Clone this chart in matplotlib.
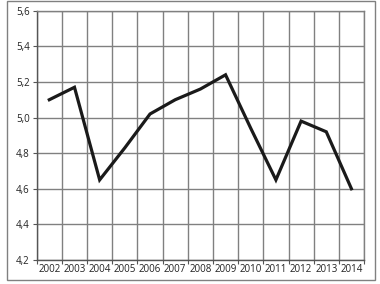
import numpy as np
import matplotlib.pyplot as plt
from matplotlib.patches import Rectangle

years = ['2002', '2003', '2004', '2005', '2006', '2007', '2008',
         '2009', '2010', '2011', '2012', '2013', '2014']
values = [5.10, 5.17, 4.65, 4.83, 5.02, 5.10, 5.16,
          5.24, 4.94, 4.65, 4.98, 4.92, 4.60]
yticks = [4.2, 4.4, 4.6, 4.8, 5.0, 5.2, 5.4, 5.6]

plt.rcParams['font.family'] = ['Open Sans', 'DejaVu Sans']

fig = plt.figure(figsize=(3.8, 2.84), dpi=100)
ax = fig.add_axes([0.0966, 0.0845, 0.8614, 0.8778])

x = np.arange(len(years))
ax.plot(x, values, color='#1a1a1a', lw=2.3, solid_joinstyle='miter', zorder=3)

ax.set_xlim(-0.5, len(years) - 0.5)
ax.set_ylim(4.2, 5.6)

# boundaries get the grid and tick marks, centres get the labels
ax.set_xticks(np.arange(len(years) + 1) - 0.5)
ax.set_xticklabels([])
ax.set_xticks(x, minor=True)
ax.set_xticklabels(years, minor=True)
ax.tick_params(axis='x', which='minor', length=0, pad=3, labelsize=7, colors='#222222')
ax.tick_params(axis='x', which='major', length=3, width=0.8, color='#555555')

ax.set_yticks(yticks)
ax.set_yticklabels([('%.1f' % v).replace('.', ',') for v in yticks])
ax.tick_params(axis='y', length=3, width=0.8, color='#555555', labelsize=7,
               labelcolor='#222222', pad=2)

ax.grid(True, which='major', color='#808080', lw=1)
ax.set_axisbelow(True)
for s in ['top', 'right']:
    ax.spines[s].set_color('#808080')
    ax.spines[s].set_linewidth(1)
for s in ['left', 'bottom']:
    ax.spines[s].set_color('#555555')
    ax.spines[s].set_linewidth(1)

fig.patches.append(Rectangle((7 / 380, 4 / 284), 368 / 380, 279 / 284,
                             transform=fig.transFigure, fill=False,
                             edgecolor='#808080', lw=1))

fig.savefig('out.png', dpi=100)
